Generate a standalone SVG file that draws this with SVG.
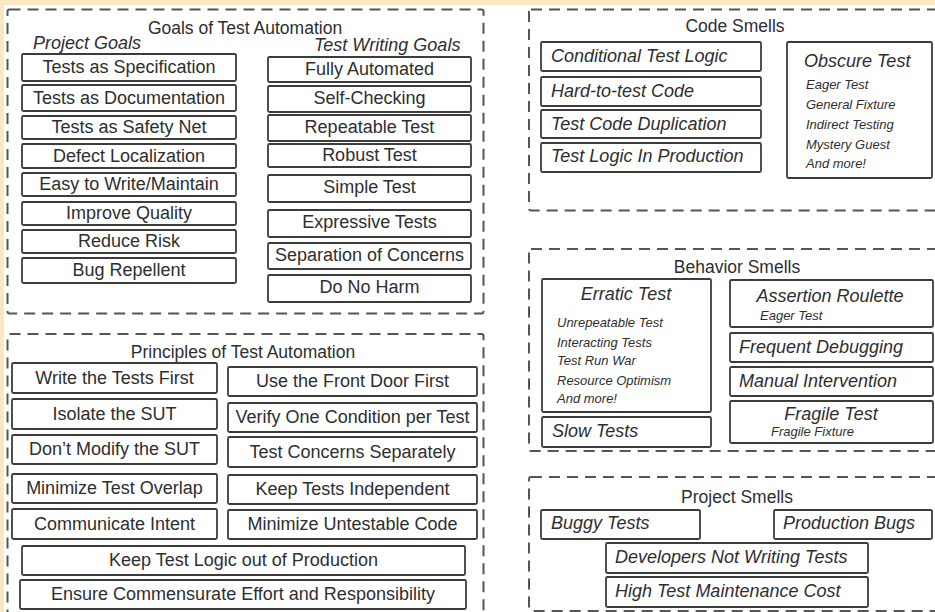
<svg xmlns="http://www.w3.org/2000/svg" width="935" height="612" viewBox="0 0 935 612">
<style>
.bg{fill:#ffffff}
.edge{fill:#fbe7c4}
.panel{fill:none;stroke:#555;stroke-width:2;stroke-dasharray:11 7}
.box{fill:#fff;stroke:#3c3c3c;stroke-width:1.8}
text{font-family:"Liberation Sans",Arial,sans-serif;fill:#2e2e2e}
.c{font-size:18px;text-anchor:middle}
.h{font-size:17.5px;text-anchor:middle}
.i{font-size:18px;font-style:italic}
.ic{font-size:18px;font-style:italic;text-anchor:middle}
.s{font-size:13px;font-style:italic}
</style>
<rect class="bg" x="0" y="0" width="935" height="612"/>
<rect class="edge" x="0" y="0" width="935" height="5"/>
<rect class="edge" x="0" y="0" width="4" height="612"/>

<g id="panels">
<g id="goals-panel">
<rect class="panel" x="7.5" y="9.5" width="476" height="304" rx="2"/>
<text class="h" x="245" y="34">Goals of Test Automation</text>
<text class="i" x="33" y="49">Project Goals</text>
<text class="i" x="314" y="51">Test Writing Goals</text>
</g>
<g id="principles-panel">
<rect class="panel" x="7.5" y="334" width="476" height="300" rx="2"/>
<text class="h" x="243" y="358">Principles of Test Automation</text>
</g>
<g id="code-smells-panel">
<rect class="panel" x="529" y="9.5" width="420" height="201" rx="2"/>
<text class="h" x="735" y="32">Code Smells</text>
</g>
<g id="behavior-smells-panel">
<rect class="panel" x="529" y="249" width="420" height="202" rx="2"/>
<text class="h" x="737" y="273">Behavior Smells</text>
</g>
<g id="project-smells-panel">
<rect class="panel" x="529" y="477" width="420" height="134" rx="2"/>
<text class="h" x="737" y="503">Project Smells</text>
</g>
</g>

<g id="connectors"></g>

<g id="project-goals">
<g id="pg1"><rect class="box" x="22" y="54" width="214" height="27" rx="1.5"/><text class="c" x="129" y="73">Tests as Specification</text></g>
<g id="pg2"><rect class="box" x="22" y="85" width="214" height="26" rx="1.5"/><text class="c" x="129" y="104">Tests as Documentation</text></g>
<g id="pg3"><rect class="box" x="22" y="116" width="214" height="23" rx="1.5"/><text class="c" x="129" y="133">Tests as Safety Net</text></g>
<g id="pg4"><rect class="box" x="22" y="144" width="214" height="24" rx="1.5"/><text class="c" x="129" y="162">Defect Localization</text></g>
<g id="pg5"><rect class="box" x="22" y="173" width="214" height="23" rx="1.5"/><text class="c" x="129" y="190">Easy to Write/Maintain</text></g>
<g id="pg6"><rect class="box" x="22" y="202" width="214" height="23" rx="1.5"/><text class="c" x="129" y="219">Improve Quality</text></g>
<g id="pg7"><rect class="box" x="22" y="230" width="214" height="23" rx="1.5"/><text class="c" x="129" y="247">Reduce Risk</text></g>
<g id="pg8"><rect class="box" x="22" y="258" width="214" height="25" rx="1.5"/><text class="c" x="129" y="276">Bug Repellent</text></g>
</g>

<g id="test-writing-goals">
<g id="tw1"><rect class="box" x="268" y="57" width="203" height="25" rx="1.5"/><text class="c" x="369.5" y="75">Fully Automated</text></g>
<g id="tw2"><rect class="box" x="268" y="86" width="203" height="26" rx="1.5"/><text class="c" x="369.5" y="104">Self-Checking</text></g>
<g id="tw3"><rect class="box" x="268" y="115" width="203" height="26" rx="1.5"/><text class="c" x="369.5" y="133">Repeatable Test</text></g>
<g id="tw4"><rect class="box" x="268" y="144" width="203" height="23" rx="1.5"/><text class="c" x="369.5" y="161">Robust Test</text></g>
<g id="tw5"><rect class="box" x="268" y="175" width="203" height="27" rx="1.5"/><text class="c" x="369.5" y="193">Simple Test</text></g>
<g id="tw6"><rect class="box" x="268" y="210" width="203" height="27" rx="1.5"/><text class="c" x="369.5" y="228">Expressive Tests</text></g>
<g id="tw7"><rect class="box" x="268" y="243" width="203" height="26" rx="1.5"/><text class="c" x="369.5" y="261">Separation of Concerns</text></g>
<g id="tw8"><rect class="box" x="268" y="275" width="203" height="27" rx="1.5"/><text class="c" x="369.5" y="293">Do No Harm</text></g>
</g>

<g id="principles">
<g id="pr1"><rect class="box" x="12" y="363" width="205" height="30" rx="1.5"/><text class="c" x="114.5" y="384">Write the Tests First</text></g>
<g id="pr2"><rect class="box" x="12" y="399" width="205" height="30" rx="1.5"/><text class="c" x="114.5" y="420">Isolate the SUT</text></g>
<g id="pr3"><rect class="box" x="12" y="435" width="205" height="29" rx="1.5"/><text class="c" x="114.5" y="455">Don’t Modify the SUT</text></g>
<g id="pr4"><rect class="box" x="12" y="474" width="205" height="29" rx="1.5"/><text class="c" x="114.5" y="494">Minimize Test Overlap</text></g>
<g id="pr5"><rect class="box" x="12" y="509" width="205" height="30" rx="1.5"/><text class="c" x="114.5" y="530">Communicate Intent</text></g>
<g id="pr6"><rect class="box" x="228" y="367" width="249" height="29" rx="1.5"/><text class="c" x="352.5" y="387">Use the Front Door First</text></g>
<g id="pr7"><rect class="box" x="228" y="403" width="249" height="29" rx="1.5"/><text class="c" x="352.5" y="423">Verify One Condition per Test</text></g>
<g id="pr8"><rect class="box" x="228" y="437" width="249" height="30" rx="1.5"/><text class="c" x="352.5" y="458">Test Concerns Separately</text></g>
<g id="pr9"><rect class="box" x="228" y="475" width="249" height="29" rx="1.5"/><text class="c" x="352.5" y="495">Keep Tests Independent</text></g>
<g id="pr10"><rect class="box" x="228" y="510" width="249" height="29" rx="1.5"/><text class="c" x="352.5" y="530">Minimize Untestable Code</text></g>
<g id="pr11"><rect class="box" x="22" y="546" width="443" height="29" rx="1.5"/><text class="c" x="243.5" y="566">Keep Test Logic out of Production</text></g>
<g id="pr12"><rect class="box" x="20" y="580" width="446" height="29" rx="1.5"/><text class="c" x="243" y="600">Ensure Commensurate Effort and Responsibility</text></g>
</g>

<g id="code-smells">
<g id="cs1"><rect class="box" x="541" y="42" width="220" height="29" rx="1.5"/><text class="i" x="551" y="62">Conditional Test Logic</text></g>
<g id="cs2"><rect class="box" x="541" y="77" width="220" height="29" rx="1.5"/><text class="i" x="551" y="97">Hard-to-test Code</text></g>
<g id="cs3"><rect class="box" x="541" y="110" width="220" height="28" rx="1.5"/><text class="i" x="551" y="130">Test Code Duplication</text></g>
<g id="cs4"><rect class="box" x="541" y="143" width="220" height="29" rx="1.5"/><text class="i" x="551" y="162">Test Logic In Production</text></g>
<g id="cs5"><rect class="box" x="787" y="42" width="145" height="136" rx="1.5"/>
<text class="i" x="804" y="67">Obscure Test</text>
<text class="s" x="806" y="89">Eager Test</text>
<text class="s" x="806" y="109">General Fixture</text>
<text class="s" x="806" y="129">Indirect Testing</text>
<text class="s" x="806" y="149">Mystery Guest</text>
<text class="s" x="806" y="168">And more!</text></g>
</g>

<g id="behavior-smells">
<g id="bs1"><rect class="box" x="542" y="279" width="169" height="133" rx="1.5"/>
<text class="ic" x="626" y="300">Erratic Test</text>
<text class="s" x="557" y="327">Unrepeatable Test</text>
<text class="s" x="557" y="347">Interacting Tests</text>
<text class="s" x="557" y="365">Test Run War</text>
<text class="s" x="557" y="385">Resource Optimism</text>
<text class="s" x="557" y="403">And more!</text></g>
<g id="bs2"><rect class="box" x="542" y="417" width="169" height="30" rx="1.5"/><text class="i" x="552" y="437">Slow Tests</text></g>
<g id="bs3"><rect class="box" x="730" y="280" width="203" height="47" rx="1.5"/>
<text class="ic" x="830" y="302">Assertion Roulette</text>
<text class="s" x="760" y="320">Eager Test</text></g>
<g id="bs4"><rect class="box" x="730" y="333" width="203" height="29" rx="1.5"/><text class="i" x="739" y="353">Frequent Debugging</text></g>
<g id="bs5"><rect class="box" x="730" y="367" width="203" height="29" rx="1.5"/><text class="i" x="739" y="387">Manual Intervention</text></g>
<g id="bs6"><rect class="box" x="730" y="401" width="203" height="42" rx="1.5"/>
<text class="ic" x="831" y="420">Fragile Test</text>
<text class="s" x="771" y="436">Fragile Fixture</text></g>
</g>

<g id="project-smells">
<g id="ps1"><rect class="box" x="541" y="510" width="159" height="29" rx="1.5"/><text class="i" x="551" y="529">Buggy Tests</text></g>
<g id="ps2"><rect class="box" x="774" y="510" width="158" height="29" rx="1.5"/><text class="i" x="783" y="529">Production Bugs</text></g>
<g id="ps3"><rect class="box" x="606" y="543" width="262" height="30" rx="1.5"/><text class="i" x="615" y="563">Developers Not Writing Tests</text></g>
<g id="ps4"><rect class="box" x="606" y="577" width="262" height="30" rx="1.5"/><text class="i" x="615" y="597">High Test Maintenance Cost</text></g>
</g>
</svg>
